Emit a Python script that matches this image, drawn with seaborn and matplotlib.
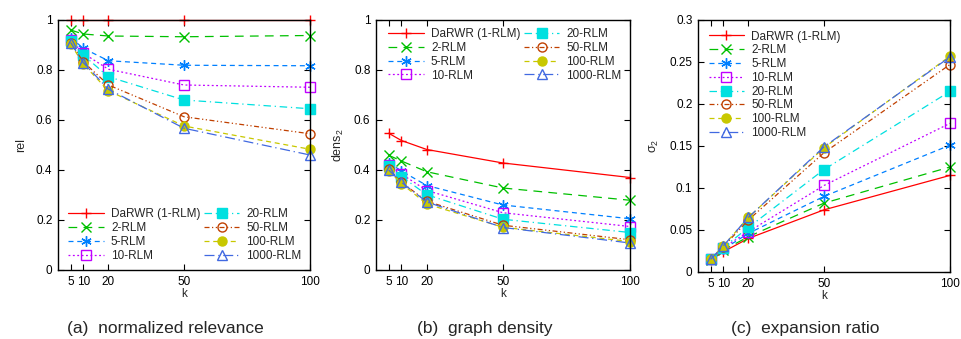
import numpy as np
import pandas as pd
import matplotlib
matplotlib.use("Agg")
import matplotlib.pyplot as plt
import seaborn as sns
from matplotlib.ticker import FuncFormatter

# data
k = [5, 10, 20, 50, 100]
methods = ["DaRWR (1-RLM)", "2-RLM", "5-RLM", "10-RLM",
           "20-RLM", "50-RLM", "100-RLM", "1000-RLM"]

rel = {
    "DaRWR (1-RLM)": [1.0, 1.0, 1.0, 1.0, 1.0],
    "2-RLM": [0.960, 0.944, 0.936, 0.933, 0.938],
    "5-RLM": [0.930, 0.887, 0.837, 0.819, 0.817],
    "10-RLM": [0.920, 0.867, 0.803, 0.740, 0.731],
    "20-RLM": [0.918, 0.860, 0.773, 0.680, 0.645],
    "50-RLM": [0.910, 0.833, 0.740, 0.613, 0.545],
    "100-RLM": [0.905, 0.824, 0.717, 0.576, 0.483],
    "1000-RLM": [0.910, 0.830, 0.723, 0.567, 0.460],
}
dens = {
    "DaRWR (1-RLM)": [0.547, 0.518, 0.482, 0.428, 0.370],
    "2-RLM": [0.459, 0.436, 0.393, 0.328, 0.279],
    "5-RLM": [0.430, 0.396, 0.338, 0.260, 0.205],
    "10-RLM": [0.420, 0.384, 0.318, 0.229, 0.174],
    "20-RLM": [0.415, 0.374, 0.301, 0.203, 0.150],
    "50-RLM": [0.405, 0.351, 0.275, 0.179, 0.121],
    "100-RLM": [0.398, 0.346, 0.264, 0.171, 0.114],
    "1000-RLM": [0.400, 0.351, 0.272, 0.170, 0.108],
}
sigma = {
    "DaRWR (1-RLM)": [0.0143, 0.024, 0.040, 0.074, 0.115],
    "2-RLM": [0.0145, 0.026, 0.042, 0.082, 0.125],
    "5-RLM": [0.015, 0.027, 0.046, 0.090, 0.151],
    "10-RLM": [0.015, 0.029, 0.048, 0.103, 0.177],
    "20-RLM": [0.015, 0.029, 0.053, 0.122, 0.215],
    "50-RLM": [0.015, 0.030, 0.062, 0.142, 0.247],
    "100-RLM": [0.015, 0.031, 0.065, 0.148, 0.257],
    "1000-RLM": [0.015, 0.031, 0.065, 0.149, 0.256],
}

colors = ["#ff0000", "#00c000", "#0080ff", "#c000ff",
          "#00e0e0", "#c04000", "#c8c800", "#4169e1"]
markers = ["+", "x", (6, 2, 0), "s", "s", "o", "o", "^"]
filled = [True, True, True, False, True, False, True, False]
styles = ["-", (0, (7, 5)), (0, (4, 3)), (0, (1.5, 2)),
          (0, (6, 3, 1, 3)), (0, (4, 2, 1, 2, 1, 2)), (0, (4, 3)),
          (0, (8, 3, 1, 3))]

sns.set_theme(style="ticks")
plt.rcParams["font.family"] = ["Liberation Sans", "DejaVu Sans"]
plt.rcParams["mathtext.fontset"] = "custom"
plt.rcParams["mathtext.rm"] = "Liberation Sans"
plt.rcParams["mathtext.it"] = "Liberation Sans"

W, H = 961, 339
fig = plt.figure(figsize=(W / 100, H / 100), dpi=100)


def axes_px(left, right, top, bottom):
    return fig.add_axes([left / W, (H - bottom) / H,
                         (right - left) / W, (bottom - top) / H])


panels = [
    (axes_px(58, 310, 20, 270), rel, "rel", (0, 1), 0.2,
     "(a)  normalized relevance", 165),
    (axes_px(376, 630, 20, 270), dens, "dens$_2$", (0, 1), 0.2,
     "(b)  graph density", 485),
    (axes_px(698, 950, 20, 272), sigma, r"$\sigma_2$", (0, 0.3), 0.05,
     "(c)  expansion ratio", 805),
]

for idx, (ax, data, ylab, ylim, step, caption, cx) in enumerate(panels):
    for i, m in enumerate(methods):
        df = pd.DataFrame({"k": k, "v": data[m]})
        sns.lineplot(data=df, x="k", y="v", ax=ax, color=colors[i],
                     marker=markers[i], linestyle=styles[i], linewidth=0.9,
                     markersize=6.5 if markers[i] in ("s", "o", "^") else 7.5,
                     markerfacecolor=colors[i] if filled[i] else "none",
                     markeredgecolor=colors[i], markeredgewidth=1.0,
                     label=m, clip_on=False)
    ax.set_xlim(0, 100)
    ax.set_ylim(*ylim)
    ax.set_xticks(k)
    ax.set_yticks(np.arange(ylim[0], ylim[1] + step / 2, step))
    ax.yaxis.set_major_formatter(FuncFormatter(lambda v, p: "%g" % round(v, 3)))
    ax.tick_params(direction="in", top=True, right=True, length=4,
                   width=0.8, labelsize=8.5, colors="black", pad=4)
    for s in ax.spines.values():
        s.set_linewidth(1.0)
        s.set_color("black")
    ax.set_xlabel("k", fontsize=8.5, labelpad=0)
    ax.set_ylabel(ylab, fontsize=9, labelpad=6)
    fig.text(cx / W, 1 - 329 / H, caption, fontsize=12.5,
             ha="center", va="center")

    handles, labels = ax.get_legend_handles_labels()
    if idx == 0:
        ax.legend(handles, labels, ncol=2, frameon=False, fontsize=8.5,
                  loc="lower right", bbox_to_anchor=(1.0, 0.0),
                  handlelength=3.0, columnspacing=0.3, labelspacing=0.15,
                  handletextpad=0.6, borderaxespad=0.3)
    elif idx == 1:
        ax.legend(handles, labels, ncol=2, frameon=False, fontsize=8.5,
                  loc="upper right", bbox_to_anchor=(1.0, 1.0),
                  handlelength=3.0, columnspacing=0.3, labelspacing=0.15,
                  handletextpad=0.6, borderaxespad=0.3)
    else:
        ax.legend(handles, labels, ncol=1, frameon=False, fontsize=8.5,
                  loc="upper left", bbox_to_anchor=(0.0, 1.0),
                  handlelength=3.0, labelspacing=0.15,
                  handletextpad=0.6, borderaxespad=0.5)

fig.savefig("out.png", dpi=100)
